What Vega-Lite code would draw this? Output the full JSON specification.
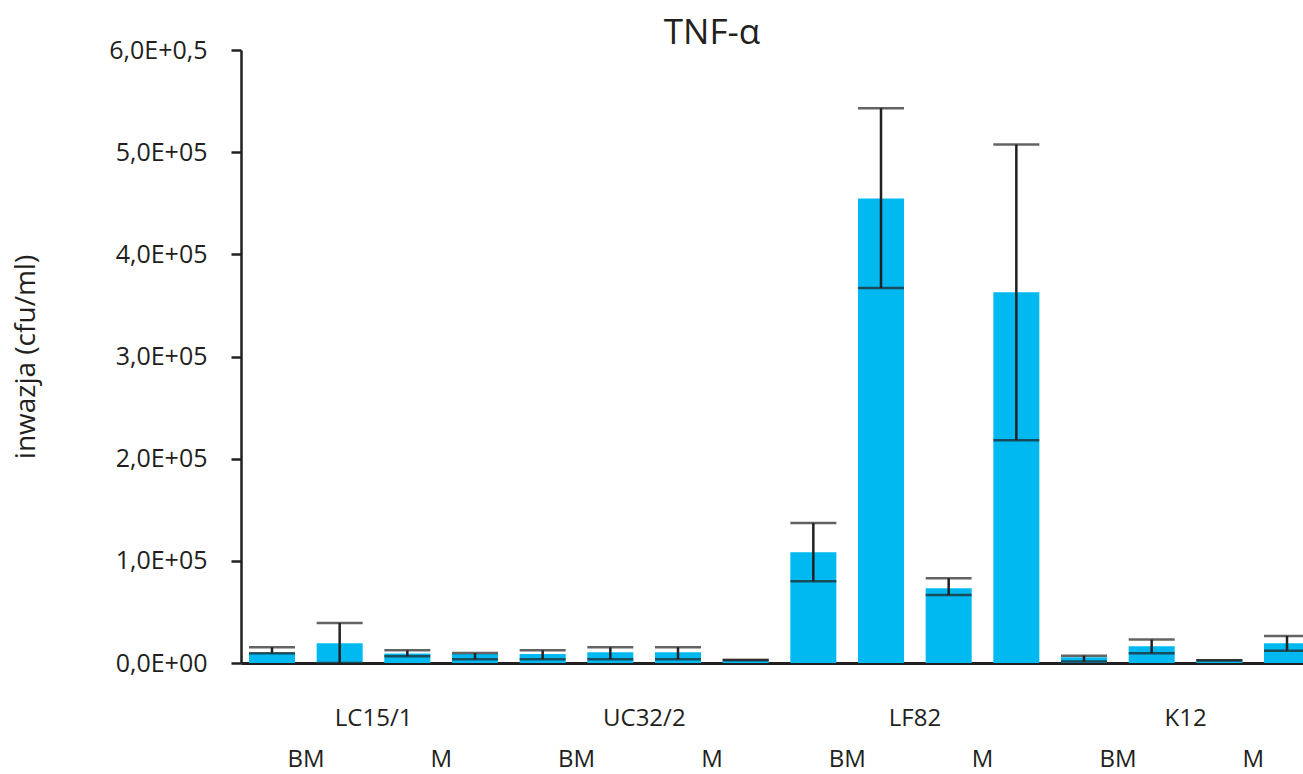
{
  "$schema": "https://vega.github.io/schema/vega-lite/v6.json",
  "autosize": {"type": "none"},
  "padding": {"left": 241, "top": 50, "right": 0, "bottom": 111},
  "width": 1062,
  "height": 613,
  "background": "white",
  "title": {
    "text": "TNF-α",
    "font": "Open Sans",
    "fontSize": 35,
    "fontWeight": "normal",
    "color": "#231f20",
    "anchor": "middle",
    "offset": -13,
    "dx": -60
  },
  "data": {
    "values": [
      {"strain": "LC15/1", "cond": "BM", "rep": 1, "bar": "LC15/1|BM|1", "mean": 10200, "lo": 9500, "hi": 15400},
      {"strain": "LC15/1", "cond": "BM", "rep": 2, "bar": "LC15/1|BM|2", "mean": 19300, "lo": 0, "hi": 39100},
      {"strain": "LC15/1", "cond": "M", "rep": 1, "bar": "LC15/1|M|1", "mean": 9200, "lo": 6600, "hi": 12400},
      {"strain": "LC15/1", "cond": "M", "rep": 2, "bar": "LC15/1|M|2", "mean": 8800, "lo": 3600, "hi": 9800},
      {"strain": "UC32/2", "cond": "BM", "rep": 1, "bar": "UC32/2|BM|1", "mean": 8800, "lo": 3600, "hi": 12400},
      {"strain": "UC32/2", "cond": "BM", "rep": 2, "bar": "UC32/2|BM|2", "mean": 10500, "lo": 3600, "hi": 15400},
      {"strain": "UC32/2", "cond": "M", "rep": 1, "bar": "UC32/2|M|1", "mean": 10500, "lo": 3600, "hi": 15400},
      {"strain": "UC32/2", "cond": "M", "rep": 2, "bar": "UC32/2|M|2", "mean": 2900, "lo": 2900, "hi": 2900},
      {"strain": "LF82", "cond": "BM", "rep": 1, "bar": "LF82|BM|1", "mean": 108300, "lo": 80000, "hi": 137000},
      {"strain": "LF82", "cond": "BM", "rep": 2, "bar": "LF82|BM|2", "mean": 454700, "lo": 367000, "hi": 543000},
      {"strain": "LF82", "cond": "M", "rep": 1, "bar": "LF82|M|1", "mean": 73100, "lo": 66500, "hi": 82900},
      {"strain": "LF82", "cond": "M", "rep": 2, "bar": "LF82|M|2", "mean": 363000, "lo": 218000, "hi": 507500},
      {"strain": "K12", "cond": "BM", "rep": 1, "bar": "K12|BM|1", "mean": 5600, "lo": 1400, "hi": 7200},
      {"strain": "K12", "cond": "BM", "rep": 2, "bar": "K12|BM|2", "mean": 16300, "lo": 9500, "hi": 22900},
      {"strain": "K12", "cond": "M", "rep": 1, "bar": "K12|M|1", "mean": 2600, "lo": 2600, "hi": 2600},
      {"strain": "K12", "cond": "M", "rep": 2, "bar": "K12|M|2", "mean": 19300, "lo": 12100, "hi": 26400}
    ]
  },
  "layer": [
    {
      "mark": {"type": "bar", "color": "#00b9f1"},
      "encoding": {
        "x": {
          "field": "bar", "type": "nominal", "sort": null,
          "scale": {"type": "band", "range": [0, 1077], "paddingInner": 0.32, "paddingOuter": 0.118},
          "axis": {
            "orient": "bottom",
            "title": null,
            "values": ["LC15/1|BM|2", "UC32/2|BM|2", "LF82|BM|2", "K12|BM|2"],
            "labelExpr": "split(datum.value, '|')[0]",
            "labelOffset": 34,
            "labelPadding": 43,
            "labelAngle": 0,
            "labelFont": "Open Sans",
            "labelFontSize": 24,
            "labelColor": "#231f20",
            "ticks": false,
            "tickSize": 0,
            "domain": true,
            "domainColor": "#231f20",
            "domainWidth": 3,
            "grid": false
          }
        },
        "y": {
          "field": "mean", "type": "quantitative",
          "title": "inwazja (cfu/ml)",
          "scale": {"domain": [0, 600000], "nice": false, "zero": true},
          "axis": {
            "values": [0, 100000, 200000, 300000, 400000, 500000, 600000],
            "labelExpr": "['0,0E+00','1,0E+05','2,0E+05','3,0E+05','4,0E+05','5,0E+05','6,0E+0,5'][round(datum.value/100000)]",
            "labelFont": "Open Sans",
            "labelFontSize": 25,
            "labelColor": "#231f20",
            "labelPadding": 24,
            "tickSize": 10,
            "tickWidth": 2.5,
            "tickColor": "#231f20",
            "domainColor": "#231f20",
            "domainWidth": 2.5,
            "grid": false,
            "titleFont": "Open Sans",
            "titleFontSize": 28,
            "titleFontWeight": "normal",
            "titleColor": "#231f20",
            "titlePadding": 68
          }
        }
      }
    },
    {
      "mark": {"type": "rule", "color": "#231f20", "strokeWidth": 2.5},
      "encoding": {
        "x": {
          "field": "bar", "type": "nominal", "sort": null,
          "scale": {"type": "band", "range": [0, 1077], "paddingInner": 0.32, "paddingOuter": 0.118},
          "axis": {
            "orient": "bottom",
            "title": null,
            "values": ["LC15/1|BM|1", "LC15/1|M|1", "UC32/2|BM|1", "UC32/2|M|1", "LF82|BM|1", "LF82|M|1", "K12|BM|1", "K12|M|1"],
            "labelExpr": "split(datum.value, '|')[1]",
            "labelOffset": 34,
            "labelPadding": 84,
            "labelAngle": 0,
            "labelFont": "Open Sans",
            "labelFontSize": 24,
            "labelColor": "#231f20",
            "ticks": false,
            "tickSize": 0,
            "domain": false,
            "grid": false
          }
        },
        "y": {"field": "lo", "type": "quantitative", "title": "inwazja (cfu/ml)"},
        "y2": {"field": "hi"}
      }
    },
    {
      "mark": {"type": "tick", "color": "#231f20", "size": 46, "thickness": 2.5},
      "encoding": {
        "x": {
          "field": "bar", "type": "nominal", "sort": null,
          "scale": {"type": "band", "range": [0, 1077], "paddingInner": 0.32, "paddingOuter": 0.118},
          "axis": null
        },
        "y": {"field": "hi", "type": "quantitative", "title": "inwazja (cfu/ml)"}
      }
    },
    {
      "mark": {"type": "tick", "color": "#231f20", "size": 46, "thickness": 2.5},
      "encoding": {
        "x": {
          "field": "bar", "type": "nominal", "sort": null,
          "scale": {"type": "band", "range": [0, 1077], "paddingInner": 0.32, "paddingOuter": 0.118},
          "axis": null
        },
        "y": {"field": "lo", "type": "quantitative", "title": "inwazja (cfu/ml)"}
      }
    }
  ],
  "resolve": {"scale": {"x": "independent"}, "axis": {"x": "independent"}},
  "config": {
    "view": {"stroke": null}
  }
}
